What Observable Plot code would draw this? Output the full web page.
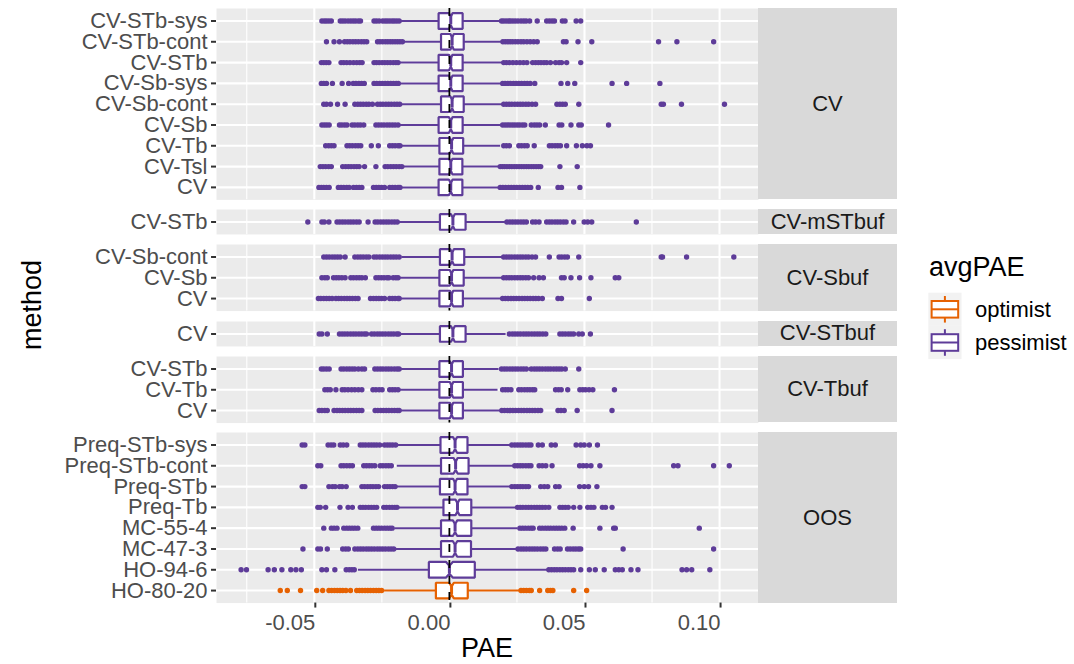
<!DOCTYPE html>
<html><head><meta charset="utf-8">
<script src="https://cdn.jsdelivr.net/npm/d3@7"></script>
<script src="https://cdn.jsdelivr.net/npm/@observablehq/plot@0.6"></script>
<style>
html,body{margin:0;padding:0;background:#fff;}
#chart{position:relative;width:1074px;height:664px;overflow:hidden;font-family:"Liberation Sans",Arial,Helvetica,sans-serif;}
.panel{position:absolute;left:0;}
.strip{position:absolute;left:758px;width:139px;background:#D9D9D9;color:#1A1A1A;font-size:22px;display:flex;align-items:center;justify-content:center;}
</style></head><body><div id="chart"></div>
<script>
// ---------- data ----------
const facetNames = ["CV","CV-mSTbuf","CV-Sbuf","CV-STbuf","CV-Tbuf","OOS"];
const groupNames = ["optimist","pessimist"];
const groupColors = ["#E66101","#5E3C99"];
const xMajor = [-0.05, 0, 0.05, 0.10];
const xMinor = [-0.075, -0.025, 0.025, 0.075];
const xTitle = "PAE";
const yTitle = "method";
const legendTitle = "avgPAE";

const rowFacet = ["CV","CV","CV","CV","CV","CV","CV","CV","CV","CV-mSTbuf","CV-Sbuf","CV-Sbuf","CV-Sbuf","CV-STbuf","CV-Tbuf","CV-Tbuf","CV-Tbuf","OOS","OOS","OOS","OOS","OOS","OOS","OOS","OOS"];
const rowMethod = ["CV-STb-sys","CV-STb-cont","CV-STb","CV-Sb-sys","CV-Sb-cont","CV-Sb","CV-Tb","CV-Tsl","CV","CV-STb","CV-Sb-cont","CV-Sb","CV","CV","CV-STb","CV-Tb","CV","Preq-STb-sys","Preq-STb-cont","Preq-STb","Preq-Tb","MC-55-4","MC-47-3","HO-94-6","HO-80-20"];
const rowGroup = ["pessimist","pessimist","pessimist","pessimist","pessimist","pessimist","pessimist","pessimist","pessimist","pessimist","pessimist","pessimist","pessimist","pessimist","pessimist","pessimist","pessimist","pessimist","pessimist","pessimist","pessimist","pessimist","pessimist","pessimist","optimist"];
const whiskerLo = [-0.0183,-0.0170,-0.0185,-0.0185,-0.0176,-0.0183,-0.0179,-0.0170,-0.0176,-0.0185,-0.0176,-0.0183,-0.0183,-0.0185,-0.0183,-0.0183,-0.0183,-0.0195,-0.0193,-0.0195,-0.0193,-0.0202,-0.0202,-0.0337,-0.0240];
const quart1 = [-0.0040,-0.0031,-0.0040,-0.0040,-0.0031,-0.0040,-0.0037,-0.0037,-0.0040,-0.0035,-0.0035,-0.0037,-0.0037,-0.0035,-0.0037,-0.0037,-0.0037,-0.0033,-0.0031,-0.0035,-0.0022,-0.0031,-0.0031,-0.0076,-0.0050];
const median = [0.0005,0.0010,0.0005,0.0005,0.0010,0.0005,0.0008,0.0005,0.0005,0.0013,0.0010,0.0008,0.0008,0.0013,0.0008,0.0008,0.0008,0.0021,0.0023,0.0021,0.0030,0.0021,0.0021,0.0000,0.0008];
const quart3 = [0.0049,0.0053,0.0049,0.0049,0.0053,0.0049,0.0051,0.0048,0.0048,0.0060,0.0055,0.0053,0.0050,0.0060,0.0050,0.0050,0.0050,0.0067,0.0071,0.0067,0.0081,0.0081,0.0080,0.0094,0.0068];
const whiskerHi = [0.0190,0.0193,0.0198,0.0190,0.0198,0.0190,0.0190,0.0184,0.0184,0.0210,0.0197,0.0197,0.0193,0.0210,0.0184,0.0180,0.0190,0.0229,0.0239,0.0229,0.0248,0.0254,0.0252,0.0364,0.0261];
const nObs = 480;

const rowOutliers = [
 [-0.0472,-0.0463,-0.0455,-0.0446,-0.0437,-0.0404,-0.0395,-0.0386,-0.0375,-0.0365,-0.0356,-0.0347,-0.0337,-0.0329,-0.0279,-0.0270,-0.0260,-0.0247,-0.0238,-0.0230,-0.0221,-0.0212,-0.0204,-0.0195,-0.0186,0.0193,0.0201,0.0210,0.0219,0.0226,0.0235,0.0244,0.0254,0.0265,0.0275,0.0284,0.0297,0.0325,0.0360,0.0370,0.0380,0.0389,0.0418,0.0428,0.0469,0.0486],
 [-0.0455,-0.0427,-0.0407,-0.0388,-0.0378,-0.0368,-0.0357,-0.0347,-0.0337,-0.0326,-0.0316,-0.0306,-0.0266,-0.0257,-0.0247,-0.0237,-0.0228,-0.0219,-0.0210,-0.0201,-0.0192,-0.0183,-0.0174,0.0198,0.0207,0.0216,0.0225,0.0234,0.0244,0.0254,0.0265,0.0275,0.0287,0.0299,0.0312,0.0325,0.0422,0.0432,0.0476,0.0527,0.0774,0.0842,0.0978],
 [-0.0474,-0.0465,-0.0456,-0.0446,-0.0401,-0.0391,-0.0380,-0.0368,-0.0355,-0.0343,-0.0332,-0.0323,-0.0279,-0.0270,-0.0260,-0.0249,-0.0239,-0.0229,-0.0219,-0.0208,-0.0198,-0.0190,0.0201,0.0211,0.0222,0.0235,0.0248,0.0261,0.0274,0.0287,0.0308,0.0319,0.0329,0.0339,0.0350,0.0360,0.0374,0.0393,0.0406,0.0415,0.0434,0.0486],
 [-0.0474,-0.0465,-0.0455,-0.0433,-0.0397,-0.0373,-0.0356,-0.0346,-0.0335,-0.0325,-0.0315,-0.0279,-0.0269,-0.0258,-0.0248,-0.0238,-0.0228,-0.0217,-0.0207,-0.0197,-0.0189,0.0197,0.0206,0.0216,0.0226,0.0237,0.0247,0.0257,0.0267,0.0278,0.0288,0.0299,0.0316,0.0413,0.0438,0.0464,0.0602,0.0656,0.0779],
 [-0.0465,-0.0455,-0.0440,-0.0414,-0.0386,-0.0350,-0.0339,-0.0329,-0.0319,-0.0308,-0.0298,-0.0285,-0.0266,-0.0256,-0.0246,-0.0235,-0.0225,-0.0215,-0.0204,-0.0194,-0.0184,0.0201,0.0211,0.0221,0.0231,0.0242,0.0252,0.0262,0.0272,0.0283,0.0293,0.0306,0.0319,0.0398,0.0409,0.0419,0.0429,0.0479,0.0784,0.0792,0.0859,0.1018],
 [-0.0472,-0.0463,-0.0454,-0.0445,-0.0407,-0.0398,-0.0388,-0.0379,-0.0360,-0.0350,-0.0339,-0.0329,-0.0317,-0.0272,-0.0262,-0.0252,-0.0242,-0.0231,-0.0221,-0.0211,-0.0201,-0.0190,0.0197,0.0206,0.0215,0.0224,0.0233,0.0242,0.0251,0.0260,0.0270,0.0279,0.0303,0.0314,0.0324,0.0334,0.0355,0.0406,0.0416,0.0450,0.0479,0.0488,0.0589],
 [-0.0458,-0.0447,-0.0437,-0.0427,-0.0379,-0.0369,-0.0359,-0.0348,-0.0338,-0.0328,-0.0289,-0.0263,-0.0221,-0.0211,-0.0201,-0.0190,-0.0183,0.0201,0.0211,0.0222,0.0257,0.0267,0.0278,0.0288,0.0314,0.0370,0.0380,0.0391,0.0401,0.0411,0.0434,0.0470,0.0492,0.0509,0.0522],
 [-0.0478,-0.0468,-0.0458,-0.0447,-0.0437,-0.0395,-0.0384,-0.0374,-0.0364,-0.0353,-0.0343,-0.0334,-0.0314,-0.0272,-0.0238,-0.0228,-0.0217,-0.0207,-0.0197,-0.0186,-0.0176,0.0188,0.0196,0.0204,0.0213,0.0222,0.0231,0.0240,0.0249,0.0258,0.0267,0.0276,0.0285,0.0294,0.0303,0.0312,0.0321,0.0330,0.0338,0.0409,0.0473],
 [-0.0483,-0.0474,-0.0465,-0.0455,-0.0445,-0.0411,-0.0401,-0.0391,-0.0380,-0.0371,-0.0355,-0.0344,-0.0334,-0.0324,-0.0281,-0.0271,-0.0261,-0.0251,-0.0240,-0.0221,-0.0211,-0.0201,-0.0190,-0.0183,0.0188,0.0198,0.0208,0.0219,0.0229,0.0239,0.0249,0.0260,0.0270,0.0280,0.0290,0.0301,0.0329,0.0402,0.0415,0.0483],
 [-0.0524,-0.0472,-0.0463,-0.0446,-0.0416,-0.0406,-0.0396,-0.0386,-0.0375,-0.0365,-0.0355,-0.0344,-0.0334,-0.0301,-0.0275,-0.0265,-0.0254,-0.0244,-0.0234,-0.0224,-0.0213,-0.0203,-0.0193,0.0213,0.0224,0.0234,0.0244,0.0254,0.0265,0.0275,0.0285,0.0308,0.0319,0.0332,0.0360,0.0370,0.0380,0.0391,0.0401,0.0411,0.0422,0.0432,0.0460,0.0499,0.0512,0.0527,0.0692],
 [-0.0465,-0.0455,-0.0445,-0.0434,-0.0424,-0.0414,-0.0404,-0.0386,-0.0350,-0.0339,-0.0329,-0.0319,-0.0308,-0.0298,-0.0279,-0.0269,-0.0258,-0.0248,-0.0238,-0.0228,-0.0217,-0.0207,-0.0197,-0.0186,0.0201,0.0211,0.0221,0.0231,0.0242,0.0252,0.0262,0.0272,0.0283,0.0293,0.0306,0.0319,0.0370,0.0406,0.0416,0.0427,0.0437,0.0479,0.0784,0.0789,0.0878,0.1053],
 [-0.0472,-0.0461,-0.0452,-0.0429,-0.0419,-0.0409,-0.0398,-0.0386,-0.0365,-0.0355,-0.0344,-0.0334,-0.0324,-0.0311,-0.0272,-0.0262,-0.0252,-0.0242,-0.0231,-0.0224,-0.0208,-0.0198,-0.0190,0.0201,0.0211,0.0221,0.0231,0.0242,0.0252,0.0262,0.0272,0.0283,0.0293,0.0312,0.0332,0.0348,0.0415,0.0425,0.0450,0.0482,0.0524,0.0614,0.0627],
 [-0.0485,-0.0476,-0.0465,-0.0455,-0.0445,-0.0434,-0.0420,-0.0410,-0.0400,-0.0389,-0.0379,-0.0369,-0.0359,-0.0348,-0.0338,-0.0292,-0.0281,-0.0271,-0.0261,-0.0251,-0.0240,-0.0221,-0.0211,-0.0201,-0.0190,-0.0186,0.0197,0.0207,0.0217,0.0228,0.0238,0.0248,0.0258,0.0269,0.0279,0.0289,0.0299,0.0310,0.0320,0.0330,0.0344,0.0402,0.0415,0.0518],
 [-0.0482,-0.0472,-0.0452,-0.0407,-0.0397,-0.0387,-0.0377,-0.0366,-0.0356,-0.0346,-0.0335,-0.0325,-0.0315,-0.0307,-0.0288,-0.0278,-0.0267,-0.0257,-0.0247,-0.0237,-0.0226,-0.0216,-0.0206,-0.0195,-0.0188,0.0222,0.0233,0.0243,0.0253,0.0263,0.0274,0.0284,0.0294,0.0305,0.0315,0.0325,0.0335,0.0346,0.0357,0.0409,0.0419,0.0429,0.0440,0.0450,0.0460,0.0479,0.0492,0.0522],
 [-0.0474,-0.0465,-0.0455,-0.0445,-0.0401,-0.0391,-0.0380,-0.0370,-0.0360,-0.0350,-0.0337,-0.0324,-0.0314,-0.0276,-0.0266,-0.0256,-0.0246,-0.0235,-0.0225,-0.0215,-0.0204,-0.0194,-0.0186,0.0193,0.0203,0.0213,0.0224,0.0234,0.0244,0.0254,0.0265,0.0275,0.0285,0.0303,0.0314,0.0324,0.0334,0.0344,0.0355,0.0365,0.0375,0.0386,0.0396,0.0406,0.0416,0.0429,0.0479],
 [-0.0461,-0.0451,-0.0441,-0.0420,-0.0397,-0.0387,-0.0375,-0.0362,-0.0350,-0.0337,-0.0324,-0.0283,-0.0272,-0.0260,-0.0249,-0.0221,-0.0211,-0.0201,-0.0190,0.0197,0.0207,0.0217,0.0228,0.0257,0.0267,0.0278,0.0288,0.0298,0.0308,0.0316,0.0393,0.0404,0.0414,0.0438,0.0483,0.0494,0.0504,0.0517,0.0531,0.0611],
 [-0.0482,-0.0472,-0.0461,-0.0452,-0.0427,-0.0416,-0.0406,-0.0396,-0.0386,-0.0375,-0.0365,-0.0355,-0.0344,-0.0334,-0.0324,-0.0275,-0.0265,-0.0254,-0.0244,-0.0234,-0.0224,-0.0213,-0.0203,-0.0193,-0.0186,0.0194,0.0204,0.0215,0.0225,0.0235,0.0245,0.0256,0.0266,0.0276,0.0287,0.0297,0.0307,0.0317,0.0328,0.0338,0.0402,0.0413,0.0425,0.0473,0.0602],
 [-0.0545,-0.0535,-0.0449,-0.0438,-0.0428,-0.0404,-0.0393,-0.0380,-0.0330,-0.0320,-0.0310,-0.0299,-0.0289,-0.0279,-0.0269,-0.0258,-0.0240,-0.0230,-0.0220,-0.0210,-0.0199,0.0231,0.0242,0.0252,0.0262,0.0272,0.0283,0.0293,0.0302,0.0329,0.0344,0.0377,0.0392,0.0469,0.0486,0.0499,0.0518,0.0548],
 [-0.0487,-0.0476,-0.0401,-0.0391,-0.0380,-0.0369,-0.0359,-0.0317,-0.0307,-0.0297,-0.0287,-0.0276,-0.0256,-0.0246,-0.0235,-0.0225,-0.0215,0.0242,0.0252,0.0262,0.0272,0.0283,0.0293,0.0302,0.0332,0.0344,0.0357,0.0380,0.0482,0.0495,0.0508,0.0524,0.0557,0.0830,0.0846,0.0978,0.1036],
 [-0.0545,-0.0535,-0.0446,-0.0433,-0.0423,-0.0407,-0.0397,-0.0382,-0.0324,-0.0314,-0.0303,-0.0293,-0.0283,-0.0272,-0.0262,-0.0240,-0.0230,-0.0220,-0.0210,-0.0201,0.0231,0.0242,0.0252,0.0262,0.0272,0.0283,0.0293,0.0338,0.0351,0.0364,0.0393,0.0406,0.0482,0.0499,0.0515,0.0546],
 [-0.0487,-0.0478,-0.0458,-0.0405,-0.0375,-0.0359,-0.0330,-0.0320,-0.0310,-0.0299,-0.0289,-0.0279,-0.0269,-0.0243,-0.0233,-0.0222,-0.0212,-0.0202,-0.0194,0.0252,0.0262,0.0272,0.0283,0.0293,0.0303,0.0314,0.0324,0.0334,0.0344,0.0355,0.0368,0.0409,0.0419,0.0429,0.0440,0.0460,0.0483,0.0512,0.0524,0.0535,0.0566,0.0578,0.0602],
 [-0.0465,-0.0437,-0.0427,-0.0416,-0.0391,-0.0380,-0.0370,-0.0360,-0.0350,-0.0339,-0.0281,-0.0271,-0.0261,-0.0251,-0.0240,-0.0230,-0.0220,-0.0212,0.0261,0.0271,0.0281,0.0292,0.0302,0.0310,0.0334,0.0344,0.0355,0.0365,0.0375,0.0386,0.0396,0.0406,0.0416,0.0427,0.0458,0.0557,0.0608,0.0614,0.0925],
 [-0.0542,-0.0487,-0.0477,-0.0452,-0.0395,-0.0384,-0.0374,-0.0350,-0.0339,-0.0329,-0.0319,-0.0308,-0.0298,-0.0288,-0.0278,-0.0267,-0.0257,-0.0247,-0.0237,-0.0226,-0.0216,-0.0206,0.0254,0.0265,0.0275,0.0285,0.0296,0.0306,0.0316,0.0326,0.0337,0.0347,0.0357,0.0389,0.0400,0.0410,0.0437,0.0447,0.0458,0.0468,0.0478,0.0486,0.0643,0.0978],
 [-0.0771,-0.0751,-0.0671,-0.0648,-0.0620,-0.0587,-0.0568,-0.0548,-0.0472,-0.0455,-0.0424,-0.0382,-0.0371,-0.0361,-0.0352,0.0368,0.0378,0.0388,0.0398,0.0409,0.0419,0.0429,0.0440,0.0450,0.0460,0.0486,0.0518,0.0540,0.0573,0.0614,0.0627,0.0640,0.0672,0.0698,0.0861,0.0878,0.0897,0.0964],
 [-0.0626,-0.0600,-0.0551,-0.0491,-0.0469,-0.0446,-0.0436,-0.0425,-0.0415,-0.0405,-0.0395,-0.0383,-0.0366,-0.0343,-0.0333,-0.0323,-0.0312,-0.0302,-0.0292,-0.0281,-0.0271,-0.0261,-0.0251,0.0265,0.0275,0.0285,0.0296,0.0303,0.0334,0.0364,0.0374,0.0383,0.0460,0.0508]
];

// ---------- layout ----------
const xDomain = [-0.0862, 0.1144];
const plotLeft = 216, plotRight = 758;
const unit = 20.8, gap = 10, firstTop = 8, bottomMargin = 61;
const font = "Liberation Sans, Arial, Helvetica, sans-serif";
const colorScale = {domain: groupNames, range: groupColors};
const boxHalf = 0.375;

const chart = document.getElementById("chart");
let panelY = firstTop;
facetNames.forEach((f, fi) => {
  const idx = rowFacet.map((d, i) => d === f ? i : -1).filter(i => i >= 0);
  const n = idx.length;
  const rows = idx.map((i, k) => ({
    i, pos: n - k, method: rowMethod[i], group: rowGroup[i],
    lo: whiskerLo[i], q1: quart1[i], med: median[i], q3: quart3[i], hi: whiskerHi[i]
  }));
  const labelOf = new Map(rows.map(r => [r.pos, r.method]));
  const outs = rows.flatMap(r => rowOutliers[r.i].map(v => ({v, pos: r.pos, group: r.group})));
  const polys = rows.flatMap(r => {
    const nw = 1.58 * (r.q3 - r.q1) / Math.sqrt(nObs);
    const p = r.pos, h = boxHalf;
    return [
      [r.q1, p - h], [r.q1, p + h], [r.med - nw, p + h], [r.med, p + h / 2], [r.med + nw, p + h],
      [r.q3, p + h], [r.q3, p - h], [r.med + nw, p - h], [r.med, p - h / 2], [r.med - nw, p - h], [r.q1, p - h]
    ].map(([x, y]) => ({id: r.i, group: r.group, x, y}));
  });
  const isLast = fi === facetNames.length - 1;
  const ph = (n + 0.2) * unit;
  const mb = isLast ? bottomMargin : 0;
  const marks = [
    Plot.frame({fill: "#EBEBEB", stroke: "none"}),
    Plot.ruleX(xMinor, {stroke: "white", strokeWidth: 1.1}),
    Plot.ruleX(xMajor, {stroke: "white", strokeWidth: 2.1}),
    Plot.ruleY(rows, {y: "pos", stroke: "white", strokeWidth: 2.1}),
    Plot.dot(outs, {x: "v", y: "pos", r: 2.7, fill: "group", stroke: "none"}),
    Plot.ruleY(rows, {y: "pos", x1: "lo", x2: "hi", stroke: "group", strokeWidth: 2}),
    Plot.line(polys, {x: "x", y: "y", z: "id", stroke: "group", fill: "white", strokeWidth: 2.2, strokeLinejoin: "miter"}),
    Plot.ruleX(rows, {x: "med", y1: r => r.pos - boxHalf / 2, y2: r => r.pos + boxHalf / 2, stroke: "group", strokeWidth: 3}),
    Plot.ruleX([0], {stroke: "black", strokeWidth: 1.8, strokeDasharray: "8,8"}),
    Plot.axisY(rows.map(r => r.pos), {tickFormat: p => labelOf.get(p), tickSize: 5, tickPadding: 4, fontSize: 22, fill: "#4D4D4D", stroke: "#333333", strokeWidth: 2, label: null})
  ];
  if (isLast) marks.push(Plot.axisX(xMajor, {tickFormat: d => d.toFixed(2), tickSize: 5, tickPadding: 6, textAnchor: "end", dx: 1, fontSize: 22, fill: "#4D4D4D", stroke: "#333333", strokeWidth: 2, label: null}));
  const svg = Plot.plot({
    width: plotRight, height: ph + mb,
    marginLeft: plotLeft, marginRight: 0, marginTop: 0, marginBottom: mb,
    x: isLast ? {domain: xDomain, label: null} : {domain: xDomain, axis: null},
    y: {domain: [0.4, n + 0.6], label: null},
    color: colorScale,
    style: {fontFamily: font, background: "transparent", overflow: "visible"},
    marks
  });
  svg.classList.add("panel");
  svg.style.top = panelY + "px";
  chart.appendChild(svg);
  const strip = document.createElement("div");
  strip.className = "strip";
  strip.style.top = panelY + "px";
  strip.style.height = ph + "px";
  strip.textContent = f;
  chart.appendChild(strip);
  panelY += ph + gap;
});

// ---------- titles & legend ----------
const over = d3.select(chart).append("svg")
  .attr("width", 1074).attr("height", 664)
  .style("position", "absolute").style("left", 0).style("top", 0)
  .style("font-family", font);
over.append("text").attr("transform", "translate(41,305) rotate(-90)")
  .attr("text-anchor", "middle").attr("font-size", 27).attr("fill", "black").text(yTitle);
over.append("text").attr("x", (plotLeft + plotRight) / 2).attr("y", 657)
  .attr("text-anchor", "middle").attr("font-size", 27).attr("fill", "black").text(xTitle);
over.append("text").attr("x", 929).attr("y", 276).attr("font-size", 27).attr("fill", "black").text(legendTitle);
groupNames.forEach((g, i) => {
  const s = 33.2, x0 = 928.3, y0 = 292.7 + i * s, cx = x0 + s / 2, col = groupColors[i];
  over.append("rect").attr("x", x0).attr("y", y0).attr("width", s).attr("height", s).attr("fill", "#F2F2F2");
  over.append("line").attr("x1", cx).attr("x2", cx).attr("y1", y0 + 0.1 * s).attr("y2", y0 + 0.9 * s).attr("stroke", col).attr("stroke-width", 2);
  over.append("rect").attr("x", x0 + 0.1 * s).attr("y", y0 + 0.25 * s).attr("width", 0.8 * s).attr("height", 0.5 * s)
    .attr("fill", "white").attr("stroke", col).attr("stroke-width", 2);
  over.append("line").attr("x1", x0 + 0.1 * s).attr("x2", x0 + 0.9 * s).attr("y1", y0 + 0.5 * s).attr("y2", y0 + 0.5 * s).attr("stroke", col).attr("stroke-width", 2);
  over.append("text").attr("x", 975).attr("y", y0 + s / 2).attr("dy", "0.36em").attr("font-size", 22).attr("fill", "black").text(g);
});
</script>
</body></html>
